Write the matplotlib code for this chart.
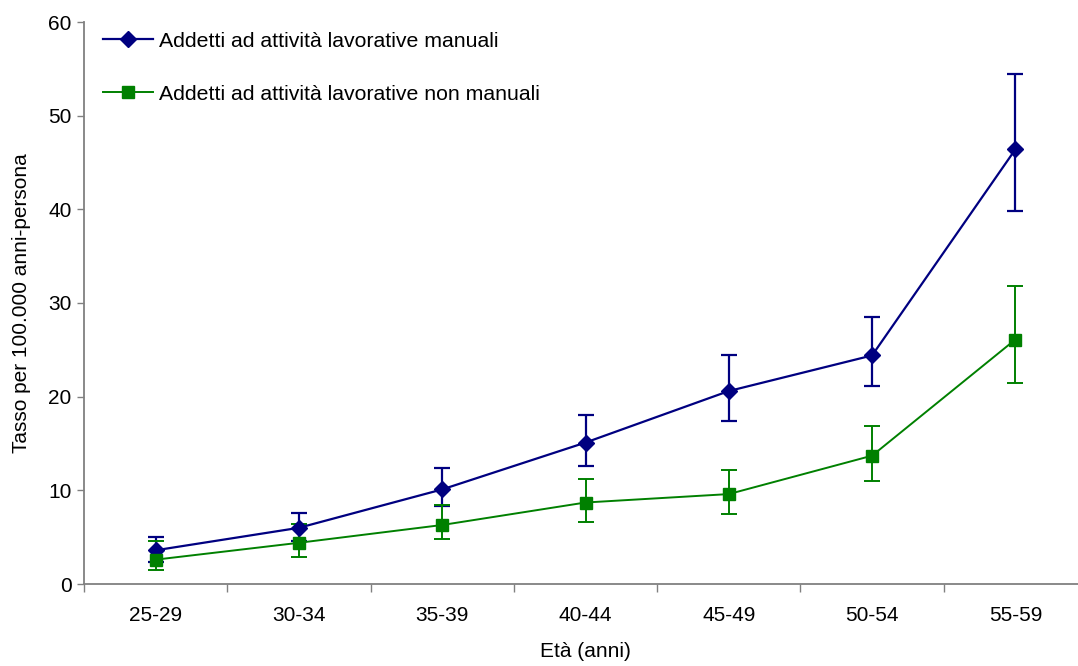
import matplotlib
matplotlib.use("Agg")
import matplotlib.pyplot as plt
from matplotlib.lines import Line2D
import numpy as np

plt.rcParams['font.family'] = ['Liberation Sans', 'DejaVu Sans']

categories = ["25-29", "30-34", "35-39", "40-44", "45-49", "50-54", "55-59"]
manual = [3.6, 6.0, 10.1, 15.1, 20.6, 24.4, 46.4]
manual_low = [2.3, 4.6, 8.3, 12.6, 17.4, 21.1, 39.8]
manual_high = [5.0, 7.6, 12.4, 18.0, 24.4, 28.5, 54.4]
nonmanual = [2.6, 4.4, 6.3, 8.7, 9.6, 13.7, 26.1]
nonmanual_low = [1.5, 2.9, 4.8, 6.6, 7.5, 11.0, 21.5]
nonmanual_high = [4.6, 6.4, 8.4, 11.2, 12.2, 16.9, 31.8]
labels = ["Addetti ad attività lavorative manuali",
          "Addetti ad attività lavorative non manuali"]

W, H = 1078, 666
fig = plt.figure(figsize=(W / 100, H / 100), dpi=100)
ax = fig.add_axes([84 / W, 1 - 584 / H, (1087 - 84) / W, (584 - 22) / H])

x = np.arange(len(categories))
blue = "#000080"
green = "#008000"

m = np.array(manual)
ax.errorbar(x, m, yerr=[m - np.array(manual_low), np.array(manual_high) - m],
            color=blue, lw=1.6, marker="D", ms=8, mfc=blue, mec=blue,
            ecolor=blue, elinewidth=1.6, capsize=5.5, capthick=1.6, zorder=3)
n = np.array(nonmanual)
ax.errorbar(x, n, yerr=[n - np.array(nonmanual_low), np.array(nonmanual_high) - n],
            color=green, lw=1.4, marker="s", ms=8.3, mfc=green, mec=green,
            ecolor=green, elinewidth=1.4, capsize=5.5, capthick=1.4, zorder=3)

ax.set_xlim(-0.5, 6.5)
ax.set_ylim(0, 60)
ax.set_yticks(range(0, 61, 10))
ax.set_xticks(np.arange(-0.5, 7, 1.0))
ax.set_xticklabels([])
ax.set_xticks(x, minor=True)
ax.set_xticklabels(categories, minor=True)
ax.tick_params(axis="x", which="major", direction="out", length=6, color="#808080", width=1)
ax.tick_params(axis="x", which="minor", length=0, pad=16, labelsize=15)
ax.tick_params(axis="y", direction="out", length=5, color="#808080", width=1, labelsize=15, pad=4)

for s in ["top", "right"]:
    ax.spines[s].set_visible(False)
for s in ["left", "bottom"]:
    ax.spines[s].set_color("#808080")
    ax.spines[s].set_linewidth(1.3)

ax.set_xlabel("Età (anni)", fontsize=15, labelpad=12)
ax.set_ylabel("Tasso per 100.000 anni-persona", fontsize=15, labelpad=12)

handles = [Line2D([], [], color=blue, lw=1.6, marker="D", ms=8, mfc=blue, mec=blue),
           Line2D([], [], color=green, lw=1.4, marker="s", ms=8.3, mfc=green, mec=green)]
leg = ax.legend(handles, labels, loc="upper left", bbox_to_anchor=(19 / (1087 - 84), 0.983),
                frameon=False, fontsize=15.3, labelspacing=1.6, handlelength=2.35,
                handletextpad=0.3, borderaxespad=0.0, borderpad=0.0)

fig.savefig("out.png", dpi=100)
